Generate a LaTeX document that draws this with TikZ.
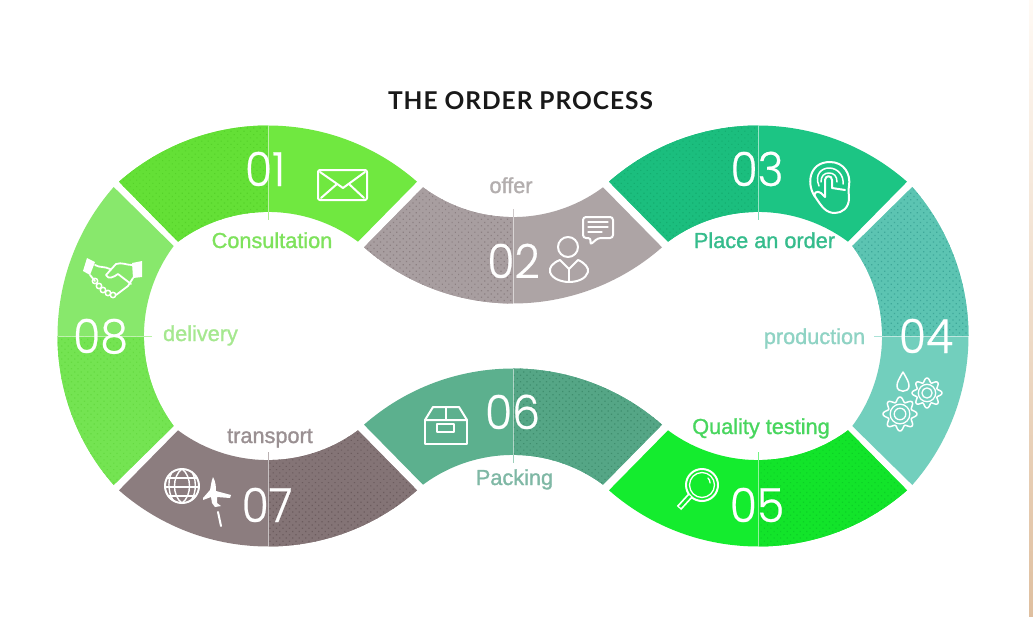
\documentclass[tikz,border=0pt]{standalone}
\usepackage{fontspec}
\usetikzlibrary{patterns.meta}
\setmainfont{Liberation Sans}
\newfontfamily\labfont{Liberation Sans}[FakeBold=1.2]
\newfontfamily\numfont{Poppins Light}[FakeStretch=0.94,FakeBold=0.5]
\newfontfamily\titlefont{Lato}[UprightFont=* Bold,LetterSpace=4]
\definecolor{plaina}{HTML}{70E840}\definecolor{dota}{HTML}{64E036}\definecolor{dotsa}{HTML}{56D22A}
\definecolor{plainb}{HTML}{ADA4A5}\definecolor{dotb}{HTML}{A89EA0}\definecolor{dotsb}{HTML}{8C8082}
\definecolor{plainc}{HTML}{1CC584}\definecolor{dotc}{HTML}{1BBE7E}\definecolor{dotsc}{HTML}{14AE70}
\definecolor{plaind}{HTML}{72CFBD}\definecolor{dotd}{HTML}{5CC4B2}\definecolor{dotsd}{HTML}{3FA89A}
\definecolor{plaine}{HTML}{14EC2E}\definecolor{dote}{HTML}{12E42A}\definecolor{dotse}{HTML}{0CD026}
\definecolor{plainf}{HTML}{5CB08E}\definecolor{dotf}{HTML}{55A686}\definecolor{dotsf}{HTML}{3F8E6E}
\definecolor{plaing}{HTML}{8C7D7F}\definecolor{dotg}{HTML}{847476}\definecolor{dotsg}{HTML}{6C5C5E}
\definecolor{plainh}{HTML}{88E86C}\definecolor{doth}{HTML}{74E452}\definecolor{dotsh}{HTML}{66DA42}
\definecolor{laba}{HTML}{7EE25C}\definecolor{labb}{HTML}{B3AEAE}\definecolor{labc}{HTML}{35BC8C}
\definecolor{labd}{HTML}{8FD3C4}\definecolor{labe}{HTML}{48D65E}\definecolor{labf}{HTML}{7FB8A5}
\definecolor{labg}{HTML}{9A9092}\definecolor{labh}{HTML}{A5E88F}
\def\segpath{(-149,-154.3) .. controls (-63.6,-229.2) and (63.6,-229.2) .. (149,-154.3) -- (90,-94.3) .. controls (36.5,-134) and (-36.5,-134) .. (-90,-94.3) -- cycle}
\def\halfpath{(-149,-154.3) .. controls (-106.3,-191.75) and (-53.15,-210.5) .. (0,-210.5) -- (0,-124.1) .. controls (-31.6,-124.1) and (-63.25,-114.15) .. (-90,-94.3) -- cycle}
% #1 x, #2 y, #3 rotation, #4 letter of the colour set, #5 side of the dotted half
\newcommand\ringseg[5]{%
  \begin{scope}[shift={(#1,#2)},rotate=#3]
    \fill[plain#4] \segpath;
    \begin{scope}[xscale=#5]
      \fill[dot#4] \halfpath;
      \fill[pattern={Dots[radius=0.85pt,distance=4.6pt,angle=45]},pattern color=dots#4] \halfpath;
    \end{scope}
    \draw[white,opacity=0.55,line width=0.9pt] (0,-210.5) -- (0,-124);
    \draw[plain#4!60,line width=0.9pt] (0,-124) -- (0,-116);
  \end{scope}}
\newcommand\gearicon[3]{%
  \draw[icon,line width=1.5pt] plot[domain=0:360,samples=121] ({#1+#3*(0.86+0.14*cos(8*\x))*cos(\x)},{#2+#3*(0.86+0.14*cos(8*\x))*sin(\x)}) -- cycle;
  \draw[icon,line width=1.3pt] (#1,#2) circle[radius=0.58*#3];
  \draw[icon,line width=1.3pt] (#1,#2) circle[radius=0.34*#3];}
\tikzset{
  icon/.style={draw=white,line width=2pt,line join=round,line cap=round},
  label/.style={anchor=base,font=\labfont\fontsize{21.7}{22}\selectfont,inner sep=0pt},
  num/.style={anchor=base,font=\numfont\fontsize{47}{47}\selectfont,text=white,inner sep=0pt},
}
\begin{document}
\begin{tikzpicture}[x=1pt,y=-1pt]
\useasboundingbox (0,0) rectangle (1033,616);
\fill[white] (0,0) rectangle (1033,616);
\shade[top color=white!80!orange!20,bottom color=brown!50!white] (1029,0) rectangle (1033,616);
% ring
\ringseg{268}{336}{0}{a}{1}
\ringseg{513}{93}{180}{b}{-1}
\ringseg{758}{336}{0}{c}{1}
\ringseg{758}{336}{-90}{d}{1}
\ringseg{758}{336}{180}{e}{1}
\ringseg{513}{579}{0}{f}{-1}
\ringseg{268}{336}{180}{g}{1}
\ringseg{268}{336}{90}{h}{1}
% title
\node[anchor=base,inner sep=0pt,text=black!90] (title) at (520.5,109) {\titlefont\fontsize{24.5}{25}\selectfont THE ORDER PROCESS};
% numbers
\node[num] (n1) at (265,186) {01};
\node[num] (n2) at (513.5,278) {02};
\node[num] (n3) at (757,186) {03};
\node[num] (n4) at (926,353) {04};
\node[num] (n5) at (757,522) {05};
\node[num] (n6) at (512.5,429) {06};
\node[num] (n7) at (267,522) {07};
\node[num] (n8) at (100.5,353) {08};
% labels
\node[label,text=laba] (l1) at (272,248) {Consultation};
\node[label,text=labb] (l2) at (511,193) {offer};
\node[label,text=labc] (l3) at (764.5,248) {Place an order};
\node[label,text=labd] (l4) at (814.5,344) {production};
\node[label,text=labe] (l5) at (761,434) {Quality testing};
\node[label,text=labf] (l6) at (514.5,485) {Packing};
\node[label,text=labg] (l7) at (270,443) {transport};
\node[label,text=labh] (l8) at (200.5,341) {delivery};
% envelope
\draw[icon,rounded corners=2pt] (318,170) rectangle (367,200);
\draw[icon] (320,172) -- (343,188) -- (365,172);
\draw[icon] (321,198) -- (337,184);
\draw[icon] (364,198) -- (349,184);
% person and bubble
\draw[icon] (568,247) circle[radius=10];
\draw[icon] (560,260) .. controls (552,263) and (549,268) .. (550,272) .. controls (552,279) and (562,282) .. (569,282) .. controls (577,282) and (586,279) .. (588,272) .. controls (589,268) and (585,263) .. (578,260) -- (569,269) -- cycle;
\draw[icon] (569,269) -- (569,281);
\draw[icon,rounded corners=3pt] (583,217) -- (613,217) -- (613,238) -- (598,238) -- (590,245) -- (591,238) -- (583,238) -- cycle;
\draw[icon,line width=1.2pt] (588,222) -- (608,222) (588,227) -- (608,227) (588,232) -- (602,232);
% hand
\draw[icon] (816,198) .. controls (806,186) and (808,162) .. (830,162) .. controls (844,162) and (851,174) .. (849,186) .. controls (848,190) and (849,195) .. (849,198) .. controls (849,208) and (842,213) .. (835,213) .. controls (826,213) and (822,207) .. (816,198) .. controls (812,193) and (817,190) .. (821,193) -- (825,197) -- (825,180) .. controls (825,175) and (832,175) .. (832,180) -- (832,188) -- (845,190);
\draw[icon,line width=1.5pt] (819,186) .. controls (814,174) and (822,168) .. (829,168) .. controls (838,168) and (844,176) .. (843,184);
\draw[icon,line width=1.5pt] (821,182) .. controls (821,176) and (824,173) .. (829,173) .. controls (834,173) and (837,176) .. (837,182);
% drop and gears
\draw[icon,line width=1.5pt] (903,372) .. controls (899,379) and (897,382) .. (897,386) .. controls (897,393) and (909,393) .. (909,386) .. controls (909,382) and (907,379) .. (903,372) -- cycle;
\gearicon{900}{414}{17}
\gearicon{927}{393}{15}
% magnifier
\draw[icon] (702,485) circle[radius=16];
\draw[icon,line width=1.3pt] (702,485) circle[radius=12.5];
\draw[icon,line width=1.3pt] (708,478) arc[start angle=-45,end angle=0,radius=7];
\draw[icon,line width=6pt,line cap=butt] (690,496) -- (679,508);
\draw[plaine,line width=2.5pt] (690,496) -- (680,507);
% box
\draw[icon] (425,420) -- (433,407) -- (459,407) -- (467,420) -- cycle;
\draw[icon] (446,407) -- (446,420);
\draw[icon] (425,420) -- (425,444) -- (467,444) -- (467,420);
\draw[icon] (437,424) rectangle (454,432);
% globe and plane
\draw[icon] (182,486) circle[radius=17];
\draw[icon,line width=1.4pt] (182,469) .. controls (172,476) and (172,496) .. (182,503) .. controls (192,496) and (192,476) .. (182,469);
\draw[icon,line width=1.4pt] (172,472) .. controls (166,482) and (170,498) .. (174,501);
\draw[icon,line width=1.4pt] (192,472) .. controls (198,482) and (195,498) .. (190,501);
\draw[icon,line width=1.4pt] (167,478) -- (197,478) (166,487) -- (198,487) (169,496) -- (195,496);
\fill[white] (213,477) .. controls (216,482) and (216,488) .. (216,491) -- (231,495) -- (230,498) -- (217,497) -- (217,503) -- (221,506) -- (215,507) -- (212,503) -- (211,497) -- (203,500) -- (203,498) -- (210,490) .. controls (211,486) and (211,482) .. (213,477) -- cycle;
\draw[icon] (218,512) -- (221,526);
% handshake
\fill[white] (87,258) -- (95,262) -- (90,275) -- (83,271) -- cycle;
\fill[white] (132,263) -- (142,261) -- (142,277) -- (133,278) -- cycle;
\draw[icon,line width=1.8pt] (95,265) .. controls (100,268) and (104,266) .. (110,269) (132,265) .. controls (126,265) and (122,262) .. (116,264) -- (106,275) .. controls (108,280) and (114,277) .. (118,274) -- (131,284) (133,278) -- (128,286) -- (116,295);
\draw[icon,line width=1.8pt] (90,275) -- (95,281);
\foreach \cx/\cy in {95/281,99/286,103/290,108/293,113/295}
  \draw[icon,line width=1.5pt] (\cx,\cy) circle[radius=2.7];
\end{tikzpicture}
\end{document}
